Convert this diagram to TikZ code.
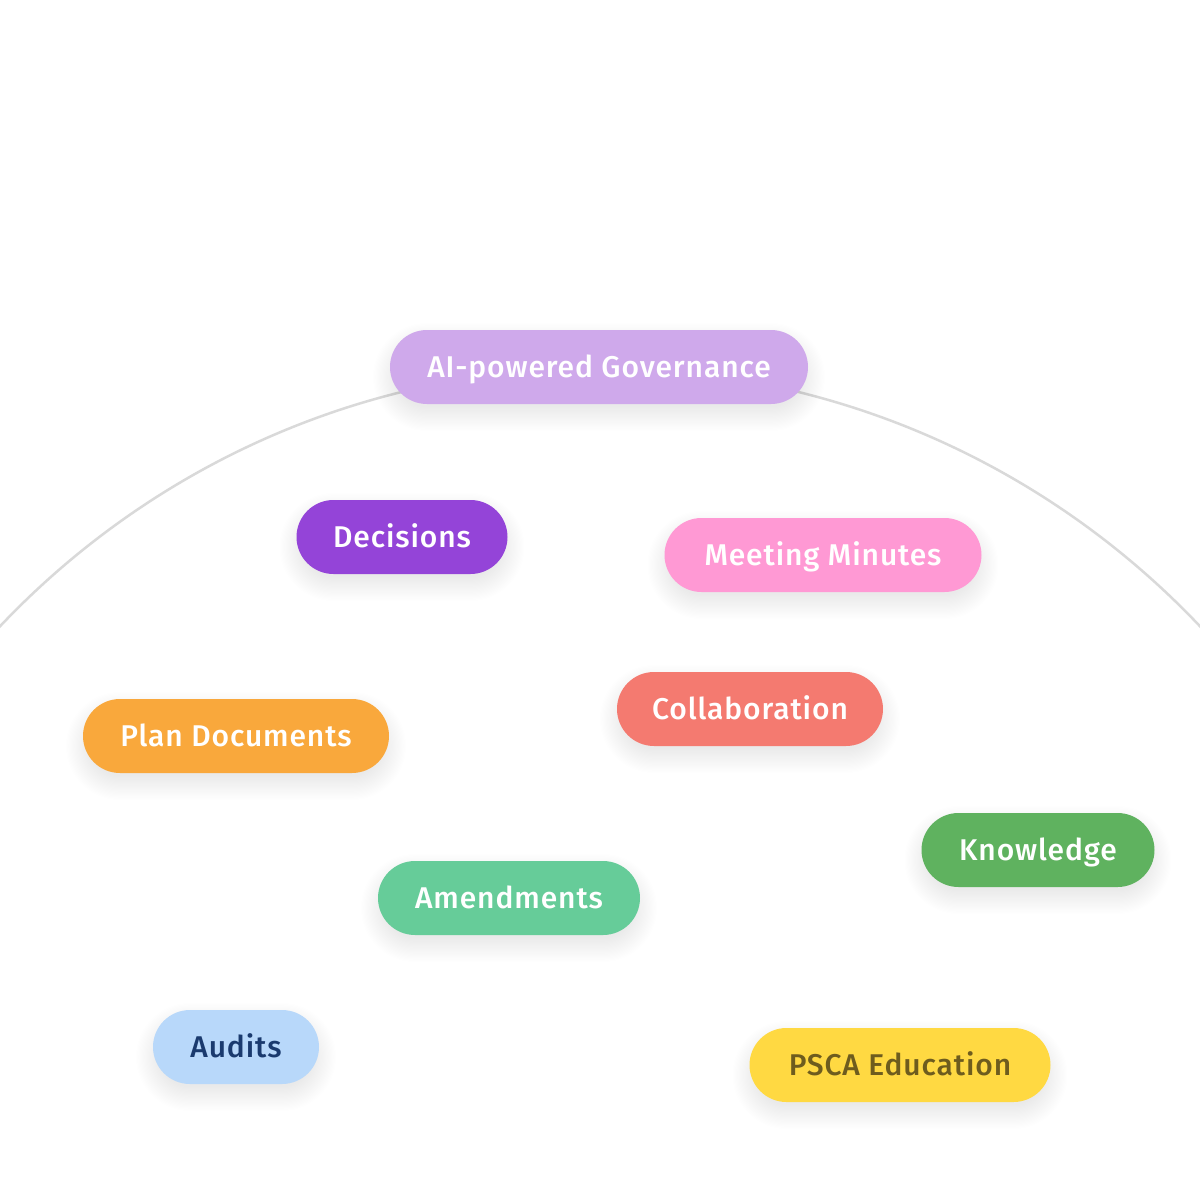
\documentclass[tikz,border=0pt]{standalone}
\usepackage{fontspec}
\setmainfont{Fira Sans Medium}[LetterSpace=3]
\usetikzlibrary{backgrounds}
\definecolor{cgov}{RGB}{207,169,235}
\definecolor{cdec}{RGB}{148,68,216}
\definecolor{cmin}{RGB}{255,153,212}
\definecolor{ccol}{RGB}{244,122,112}
\definecolor{cplan}{RGB}{249,168,60}
\definecolor{cknow}{RGB}{95,178,95}
\definecolor{camd}{RGB}{102,204,153}
\definecolor{caud}{RGB}{184,216,250}
\definecolor{caudtxt}{RGB}{26,58,110}
\definecolor{cpsca}{RGB}{255,217,66}
\definecolor{cpscatxt}{RGB}{110,92,30}
\definecolor{carc}{RGB}{217,217,217}
\tikzset{
  pill/.style={rounded corners=37pt, minimum height=74pt, inner sep=0pt,
    text height=21pt, text depth=0pt,
    text=white, font=\fontsize{30}{30}\selectfont},
  arcline/.style={draw=carc, line width=2.5pt},
}
\begin{document}
\begin{tikzpicture}[x=1pt,y=-1pt]
\useasboundingbox (0,0) rectangle (1200,1200);
\clip (0,0) rectangle (1200,1200);
\node[pill, fill=cgov, minimum width=418pt] (gov) at (599,367) {AI-powered Governance};
\node[pill, fill=cdec, minimum width=211pt] (dec) at (402,537) {Decisions};
\node[pill, fill=cmin, minimum width=317pt] (min) at (823,555) {Meeting Minutes};
\node[pill, fill=ccol, minimum width=266pt] (col) at (750,709) {Collaboration};
\node[pill, fill=cplan, minimum width=306pt] (plan) at (236,736) {Plan Documents};
\node[pill, fill=cknow, minimum width=233pt] (know) at (1038,850) {Knowledge};
\node[pill, fill=camd, minimum width=262pt] (amd) at (509,898) {Amendments};
\node[pill, fill=caud, text=caudtxt, minimum width=166pt] (aud) at (236,1047) {Audits};
\node[pill, fill=cpsca, text=cpscatxt, minimum width=301pt] (psca) at (900,1065) {PSCA Education};
\begin{scope}[on background layer]
  \fill[white] (0,0) rectangle (1200,1200);
  \draw[arcline] (600,1194) circle[radius=826];
  \foreach \n in {gov,dec,min,col,plan,know,amd,aud,psca}{
    \foreach \k in {-6,...,14}{
      \fill[black, opacity=0.004, rounded corners=37pt+1.2*\k pt]
        ([xshift=-1.2*\k pt, yshift=-10pt-1.2*\k pt]\n.south west) rectangle
        ([xshift=1.2*\k pt, yshift=-10pt+1.2*\k pt]\n.north east);
    }
  }
\end{scope}
\end{tikzpicture}
\end{document}
